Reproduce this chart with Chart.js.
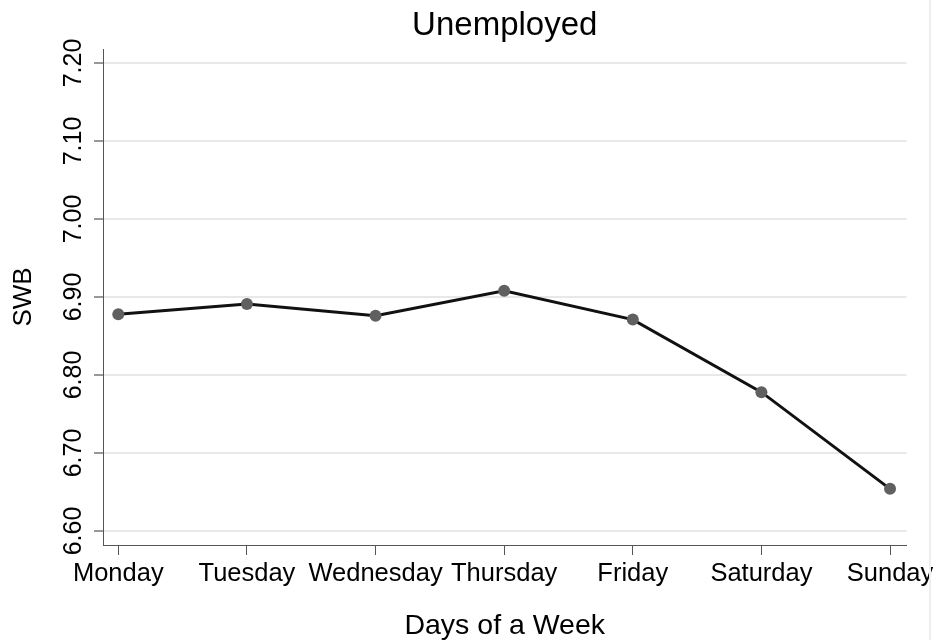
<!DOCTYPE html>
<html>
<head>
<meta charset="utf-8">
<title>Unemployed</title>
<script src="https://cdn.jsdelivr.net/npm/chart.js@4/dist/chart.umd.min.js"></script>
<style>
  html, body { margin: 0; padding: 0; background: #fff; }
  #wrap { position: relative; width: 942px; height: 640px; }
  #edge { position: absolute; left: 929px; top: 0; width: 2px; height: 640px; background: #eeeeee; }
</style>
</head>
<body>
<div id="wrap">
  <canvas id="chart" width="942" height="640"></canvas>
  <div id="edge"></div>
</div>
<script>
'use strict';

// ─── Data ─────────────────────────────────────────────────────────────────────

const days = ['Monday', 'Tuesday', 'Wednesday', 'Thursday', 'Friday', 'Saturday', 'Sunday'];
const swb = [6.878, 6.891, 6.876, 6.908, 6.871, 6.778, 6.654];
const yTicks = [6.6, 6.7, 6.8, 6.9, 7.0, 7.1, 7.2];

const FONT = "'Liberation Sans', Arial, Helvetica, sans-serif";
const AXIS = '#555555';

// ─── Chart ────────────────────────────────────────────────────────────────────

const ctx = document.getElementById('chart').getContext('2d');

new Chart(ctx, {
  type: 'line',
  data: {
    datasets: [
      {
        label: 'SWB',
        data: days.map((d, i) => ({ x: i, y: swb[i] })),
        borderColor: '#111111',
        borderWidth: 3,
        tension: 0,
        pointRadius: 6,
        pointBackgroundColor: '#606060',
        pointBorderWidth: 0,
        pointHoverRadius: 6,
        clip: false,
      },
    ],
  },
  options: {
    responsive: false,
    animation: false,
    devicePixelRatio: 1,
    layout: { padding: { left: 0, right: 35.5, top: 0, bottom: 0 } },
    plugins: {
      legend: { display: false },
      tooltip: { enabled: false },
      title: {
        display: true,
        text: 'Unemployed',
        fullSize: false,
        color: '#000',
        font: { family: FONT, size: 33, weight: 'normal' },
        padding: { top: 6, bottom: 3.4 },
      },
    },
    scales: {
      x: {
        type: 'linear',
        min: -0.119,
        max: 6.128,
        afterBuildTicks: (scale) => {
          scale.ticks = days.map((d, i) => ({ value: i }));
        },
        afterFit: (scale) => { scale.height = 95; },
        border: { display: true, color: AXIS, width: 1 },
        grid: {
          drawOnChartArea: false,
          drawTicks: true,
          tickLength: 10,
          tickColor: AXIS,
          tickWidth: 1,
        },
        ticks: {
          autoSkip: false,
          maxRotation: 0,
          minRotation: 0,
          padding: 3.5,
          color: '#000',
          font: { family: FONT, size: 25.5 },
          callback: (v) => days[v],
        },
        title: {
          display: true,
          text: 'Days of a Week',
          color: '#000',
          font: { family: FONT, size: 28.5 },
          padding: { top: 0, bottom: -3 },
        },
      },
      y: {
        type: 'linear',
        min: 6.582,
        max: 7.218,
        afterBuildTicks: (scale) => {
          scale.ticks = yTicks.map((v) => ({ value: v }));
        },
        afterFit: (scale) => { scale.width = 103; },
        border: { display: true, color: AXIS, width: 1 },
        grid: {
          color: '#e8e8e8',
          lineWidth: 2,
          drawTicks: true,
          tickLength: 9,
          tickColor: '#333333',
          tickWidth: 1,
        },
        ticks: {
          autoSkip: false,
          minRotation: 90,
          maxRotation: 90,
          crossAlign: 'center',
          padding: -4,
          color: '#000',
          font: { family: FONT, size: 25 },
          callback: (v) => Number(v).toFixed(2),
        },
        title: {
          display: true,
          text: 'SWB',
          color: '#000',
          font: { family: FONT, size: 26 },
          padding: { top: 8.4, bottom: 0 },
        },
      },
    },
  },
});
</script>
</body>
</html>
